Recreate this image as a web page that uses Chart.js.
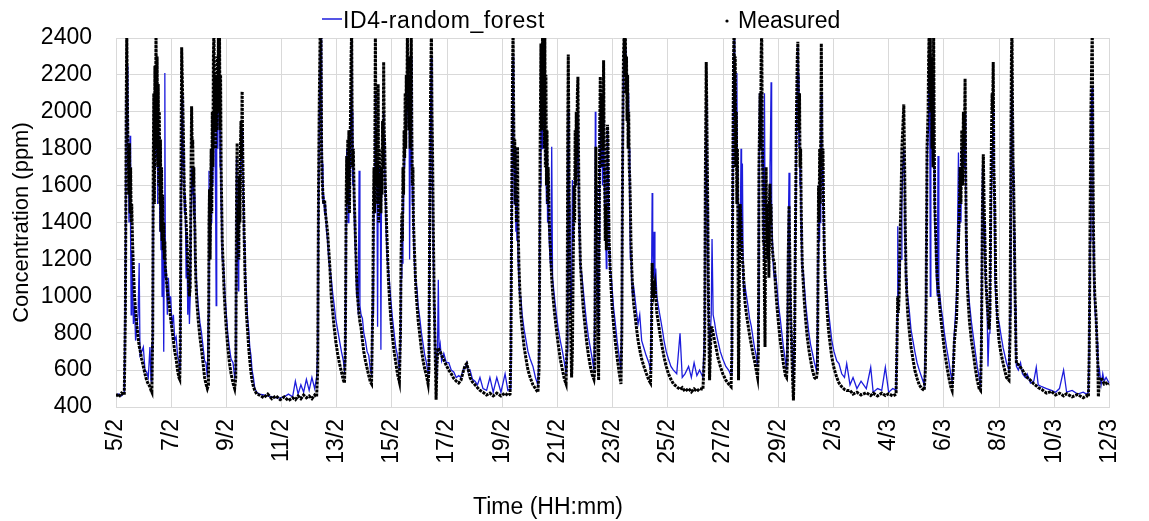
<!DOCTYPE html>
<html>
<head>
<meta charset="utf-8">
<script src="https://cdn.jsdelivr.net/npm/chart.js@4.4.1/dist/chart.umd.min.js"></script>
<style>
  html, body { margin: 0; padding: 0; background: #fff; }
  #wrap { width: 1149px; height: 521px; }
</style>
</head>
<body>
<div id="wrap"><canvas id="myChart" width="1149" height="521"></canvas></div>
<script>
// time in days since 5/2 00:00, one inner list per occupancy event
const timeDays = [
  [0, 0.1, 0.2, 0.3],
  [0.34,0.37,0.39,0.41,0.43, 0.45,0.47,0.49,0.51,0.53, 0.55,0.57,0.60,0.63,0.67, 0.71,0.75,0.80,0.84,0.87, 0.93,0.99,1.05,1.11,1.17, 1.23,1.27,1.30],
  [1.33,1.35,1.37,1.39,1.41, 1.43,1.45,1.47,1.49,1.51, 1.53,1.55,1.57,1.59,1.61, 1.63,1.65,1.67,1.69,1.71, 1.73,1.75,1.77,1.79,1.82, 1.86,1.90,1.94,1.98,2.03, 2.08,2.13,2.18,2.23,2.28, 2.31],
  [2.33,2.36,2.38,2.40,2.42, 2.44,2.46,2.48,2.51,2.54, 2.57,2.60,2.63,2.66,2.69, 2.72,2.74,2.76,2.78,2.80, 2.82,2.84,2.86,2.89,2.93, 2.98,3.04,3.10,3.16,3.21, 3.26,3.31],
  [3.35,3.37,3.39,3.41,3.43, 3.45,3.47,3.49,3.51,3.53, 3.55,3.57,3.59,3.61,3.63, 3.65,3.67,3.69,3.71,3.73, 3.75,3.77,3.79,3.81,3.83, 3.85,3.88,3.92,3.96,4.00, 4.05,4.11,4.17,4.24,4.30],
  [4.34,4.37,4.39,4.41,4.43, 4.45,4.47,4.49,4.51,4.53, 4.55,4.57,4.59,4.61,4.64, 4.67,4.70,4.73,4.77,4.81, 4.85,4.89,4.93,4.98,5.03, 5.10],
  [5.2,5.35,5.5,5.65,5.8, 5.95,6.1,6.25,6.4,6.5, 6.6,6.7,6.8,6.9,7.0, 7.1,7.2,7.27],
  [7.31,7.34,7.37,7.40,7.43, 7.45,7.47,7.50,7.53,7.56, 7.59,7.63,7.67,7.71,7.75, 7.80,7.85,7.90,7.96,8.03, 8.10,8.17,8.24,8.28],
  [8.31,8.34,8.36,8.38,8.40, 8.42,8.44,8.46,8.48,8.50, 8.52,8.54,8.56,8.58,8.60, 8.63,8.66,8.69,8.72,8.75, 8.78,8.81,8.84,8.88,8.93, 8.98,9.04,9.10,9.16,9.22, 9.26],
  [9.29,9.31,9.33,9.35,9.37, 9.39,9.40,9.42,9.44,9.46, 9.48,9.50,9.52,9.54,9.56, 9.58,9.60,9.62,9.64,9.66, 9.68,9.70,9.72,9.74,9.76, 9.79,9.83,9.87,9.91,9.96, 10.02,10.08,10.14,10.20,10.27],
  [10.31,10.33,10.36,10.38,10.40, 10.42,10.44,10.46,10.48,10.50, 10.52,10.54,10.56,10.58,10.60, 10.62,10.64,10.66,10.68,10.70, 10.72,10.74,10.76,10.78,10.81, 10.84,10.87,10.91,10.95,11.01, 11.07,11.13,11.19,11.25,11.31],
  [11.34,11.37,11.40,11.43,11.45, 11.47,11.50,11.53,11.55,11.58, 11.60,11.63,11.66,11.68,11.71, 11.75,11.80,11.88,11.97,12.06, 12.15,12.24,12.33,12.42,12.50, 12.58,12.65,12.71,12.77,12.83, 12.92,13.01,13.10,13.19,13.30, 13.43,13.55,13.67,13.80,13.95, 14.10,14.20,14.28],
  [14.31,14.34,14.37,14.39,14.41, 14.43,14.45,14.47,14.49,14.51, 14.53,14.55,14.57,14.60,14.63, 14.67,14.72,14.79,14.86,14.93, 15.01,15.11,15.20,15.29],
  [15.33,15.35,15.37,15.40,15.42, 15.44,15.46,15.48,15.50,15.52, 15.54,15.56,15.58,15.60,15.62, 15.64,15.66,15.68,15.70,15.73, 15.76,15.79,15.82,15.86,15.90, 15.96,16.02,16.10,16.18,16.25, 16.31],
  [16.35,16.37,16.39,16.41,16.43, 16.45,16.48,16.51,16.54,16.57, 16.60,16.62,16.64,16.66,16.68, 16.70,16.72,16.74,16.76,16.78, 16.80,16.83,16.88,16.93,16.99, 17.05,17.12,17.19,17.26,17.32],
  [17.35,17.37,17.39,17.41,17.43, 17.45,17.47,17.49,17.51,17.53, 17.55,17.57,17.59,17.61,17.63, 17.65,17.67,17.69,17.71,17.73, 17.75,17.77,17.79,17.81,17.83, 17.85,17.87,17.90,17.94,17.98, 18.03,18.09,18.16,18.23,18.30],
  [18.33,18.36,18.39,18.42,18.44, 18.46,18.48,18.50,18.52,18.54, 18.56,18.58,18.60,18.62,18.64, 18.66,18.69,18.72,18.76,18.80, 18.86,18.92,18.98,19.05,19.13, 19.21,19.31,19.37],
  [19.40,19.43,19.45,19.48,19.50, 19.53,19.56,19.60,19.66,19.73, 19.80,19.86,19.94,20.02,20.11, 20.20,20.32,20.44,20.52,20.62, 20.75,20.85,20.95,21.05,21.15, 21.27],
  [21.33,21.36,21.39,21.41,21.43, 21.45,21.47,21.49,21.51,21.54, 21.57,21.60,21.64,21.69,21.75, 21.81,21.90,21.99,22.10,22.20, 22.29],
  [22.32,22.35,22.38,22.40,22.42, 22.44,22.46,22.48,22.50,22.52, 22.54,22.56,22.58,22.60,22.62, 22.65,22.67,22.70,22.73,22.76, 22.80,22.85,22.90,22.96,23.02, 23.08,23.14,23.20,23.25],
  [23.28,23.30,23.32,23.34,23.36, 23.38,23.40,23.42,23.44,23.46, 23.48,23.50,23.52,23.54,23.56, 23.58,23.60,23.62,23.64,23.66, 23.68,23.70,23.72,23.74,23.76, 23.79,23.82,23.86,23.90,23.95, 24.01,24.07,24.13,24.19,24.26, 24.30],
  [24.33,24.36,24.39,24.42,24.45, 24.49,24.52,24.55],
  [24.59,24.63,24.66,24.69,24.71, 24.73,24.75,24.77,24.79,24.81, 24.83,24.85,24.87,24.91,24.95, 25.00,25.05,25.11,25.17,25.24, 25.31,25.38],
  [25.42,25.44,25.46,25.48,25.50, 25.52,25.54,25.56,25.58,25.60, 25.62,25.64,25.67,25.70,25.74, 25.78,25.82,25.88,25.94,26.02, 26.12,26.20,26.30,26.40,26.48, 26.60,26.71,26.85,27.00,27.19, 27.35,27.44,27.60,27.75,27.88, 28.00,28.15,28.27],
  [28.31,28.33,28.35,28.38,28.41, 28.45,28.48,28.51,28.55,28.58, 28.60,28.63,28.66,28.69,28.75, 28.81,28.88,28.95,29.03,29.11, 29.20,29.29],
  [29.33,29.36,29.39,29.43,29.45, 29.47,29.49,29.51,29.53,29.55, 29.57,29.59,29.61,29.63,29.65, 29.67,29.70,29.73,29.76,29.79, 29.82,29.86,29.90,29.96,30.02, 30.10,30.18,30.25,30.30],
  [30.34,30.38,30.42,30.46,30.50, 30.53,30.56,30.59,30.62,30.65, 30.68,30.71,30.74,30.77,30.79, 30.81,30.83,30.87,30.93,31.00, 31.07,31.14,31.21,31.28,31.33],
  [31.36,31.40,31.43,31.46,31.49, 31.52,31.56,31.60,31.64],
  [31.67,31.70,31.73,31.75,31.77, 31.79,31.81,31.83,31.85,31.88, 31.92,31.95,32.00,32.06,32.15, 32.27,32.36],
  [32.40,32.43,32.45,32.47,32.49, 32.51,32.53,32.55,32.57,32.59, 32.61,32.63,32.70,32.78,32.85, 32.95,33.02,33.14,33.26,33.35, 33.42,33.55,33.72,33.90,34.05, 34.19,34.34,34.45,34.65,34.85, 35.05,35.17,35.24],
  [35.27,35.30,35.33,35.36,35.38, 35.40,35.42,35.44,35.47,35.49, 35.52,35.56,35.58,35.60,35.64, 35.70,35.76,35.81,35.88,35.95, 36.00]
];

const measuredPpm = [
  [470,455,475,465],
  [900,2000,2450,2100,1850, 1760,1550,1830,1450,1700, 1400,1500,1290,1150,1000, 920,850,780,730,710, 660,620,580,545,525, 510,490,480],
  [800,1700,2100,1500,2250, 1800,2450,1900,2300,1700, 2150,1600,2000,1500,1850, 1350,1700,1300,1550,1250, 1400,1200,1300,1150,1100, 1030,980,940,880,820, 760,700,660,600,560, 550],
  [700,1800,2350,2200,2050, 1900,1700,1550,1480,1400, 1300,1180,1080,1000,1050, 1700,2030,1800,1850,1600, 1700,1450,1360,1100,970, 870,780,710,630,560, 525,500],
  [520,1400,1580,1200,1550, 1800,1450,2000,1700,2300, 2450,1900,2200,1800,2100, 1900,2300,2000,2400,2100, 2450,1900,2200,1700,1500, 1300,1180,1020,910,820, 725,640,580,530,500],
  [560,1600,1830,1300,1500, 1200,1650,1400,1800,1950, 1750,2110,1800,1600,1360, 1150,1000,900,810,720, 650,590,545,510,490, 470],
  [465,450,470,445,460, 440,455,435,450,440, 460,445,465,450,460, 445,465,455],
  [600,1600,2100,2450,2450, 1800,1650,1540,1500,1520, 1450,1400,1340,1250,1160, 1000,920,840,760,690, 635,590,545,530],
  [700,1500,1760,1500,1850, 1600,1900,1450,1800,2000, 2300,2450,1900,1700,1800, 1550,1400,1250,1100,1000, 950,900,860,830,760, 700,650,610,570,535, 525],
  [800,1030,1500,1700,1450, 2100,2450,1800,1600,1900, 1500,2150,1400,1800,1550, 1650,1450,1700,1550,1950, 1700,2270,1900,1800,1600, 1450,1270,1100,990,880, 780,700,640,580,535],
  [800,1200,1450,1300,1700, 1550,1900,1750,2100,1800, 2200,2000,2450,2100,2300, 1900,2200,1800,2100,2450, 1900,1600,1700,1400,1270, 1150,1030,950,870,790, 710,650,605,570,525],
  [600,1500,2100,2450,2000, 1800,1360,1000,820,600, 440,620,700,720,710, 700,680,655,625,600, 580,555,540,530,545, 590,625,635,600,560, 535,520,505,490,480, 465,475,460,475,460, 475,462,470],
  [700,1500,2200,2450,2000, 1700,1850,1500,1650,1400, 1700,1810,1400,1180,1050, 910,820,725,660,600, 560,520,500,480],
  [600,1100,1800,2370,1900, 2200,2450,2000,2300,1800, 2450,1700,2200,1600,1900, 1500,1700,1580,1400,1300, 1200,1100,1030,960,900, 820,745,660,600,550, 525],
  [800,1900,2310,1900,1300, 1000,800,560,700,1200, 1600,1400,1900,1600,2000, 1750,2100,2190,1800,1500, 1350,1180,1050,940,850, 760,680,620,575,550],
  [600,1300,1810,1500,1300, 1000,700,545,1400,1900, 2190,1900,2100,1700,2000, 1800,2280,1800,1600,1300, 1500,1250,1700,1930,1850, 1500,1300,1180,1050,940, 850,760,670,590,525],
  [800,1800,2300,2450,2200, 2400,2100,2300,1950,2200, 1800,2000,1700,1630,1500, 1300,1150,1050,960,910, 830,760,710,660,620, 585,545,530],
  [700,1180,1000,1070,1030, 1060,1000,910,850,780, 720,670,620,580,550, 525,510,495,505,485, 500,482,498,485,500, 495],
  [700,1700,2270,2000,1700, 1400,1000,750,545,700, 830,830,800,760,720, 670,620,580,545,525, 510],
  [700,1600,2300,2450,2000, 2300,1700,2000,1500,1800, 1300,545,900,1300,1500, 1400,1300,1200,1150,1050, 960,900,850,790,740, 690,650,600,560],
  [700,1700,1900,2100,1800, 2300,2450,1900,1600,1300, 1300,1000,725,1400,1700, 1300,1500,1200,1400,1100, 1500,1610,1400,1500,1300, 1250,1200,1180,1050,950, 850,760,700,630,570, 560],
  [650,1200,1490,1200,900, 700,550,435],
  [700,1500,2000,2300,2380, 2100,1900,2100,1700,1800, 1500,1300,1180,1060,960, 860,780,710,655,600, 560,550],
  [600,1100,1600,1400,1800, 1500,1900,2370,1900,1700, 1800,1500,1250,1100,1000, 900,820,740,670,610, 560,530,510,495,490, 490,470,480,465,478, 462,475,460,475,462, 472,460,470],
  [800,1000,910,1000,1300, 1540,1800,1900,2040,1700, 1400,1120,1000,910,810, 725,660,600,555,520, 500,490],
  [600,1000,1800,2000,2300, 2450,2100,2400,2000,2300, 1800,2200,1700,2450,1900, 1500,1360,1200,1100,1050, 1000,930,870,790,710, 630,560,510,490],
  [600,750,820,880,1100, 1300,1450,1700,1500,1900, 1600,2000,1800,2180,1700, 1400,1180,1000,860,760, 690,610,545,500,490],
  [700,1500,1770,1500,1300, 1100,980,900,820],
  [900,1500,1900,2100,2000, 2270,1700,1600,1450,1090, 950,850,760,700,635, 560,545],
  [800,1800,2300,2450,2000, 1700,1600,1400,1150,950, 750,635,630,615,600, 575,560,545,525,515, 505,495,475,485,465, 475,460,472,455,468, 450,462,455],
  [700,1400,2000,2300,2450, 1800,1400,1180,1000,960, 880,700,635,455,550, 560,540,525,530,520, 525]
];

const predictedPpm = [
  [465,470,460,480],
  [1000,2100,2400,2250,1700, 1820,1400,1650,1870,1300, 900,1250,1100,850,950, 760,820,900,1180,680, 700,725,600,590,560, 725,540,745],
  [700,1600,2000,1900,1700, 2000,2200,1750,2100,1500, 1900,1650,1800,1350,1700, 1250,1500,1000,1400,1150, 700,1300,2210,1100,1150, 900,1100,960,1000,840, 900,760,780,680,650, 600],
  [620,1600,2150,1900,2100, 1700,1800,1450,1550,1100, 1350,900,1150,850,1000, 1500,1700,1650,1550,1700, 1450,1550,1200,1150,1050, 950,860,800,720,650, 640,560],
  [900,1680,1200,1300,1500, 1400,1700,1850,1600,2000, 2200,2050,1800,1500,950, 1900,2100,1800,2200,2300, 2000,1700,1900,1500,1400, 1200,1200,1100,980,900, 800,720,660,640,560],
  [600,1750,1500,1200,1030, 1400,1500,1600,1700,1800, 1850,1900,1700,1650,1300, 1250,1080,1000,880,820, 720,680,600,560,500, 480],
  [470,465,460,455,450, 450,455,470,455,540, 470,520,480,550,490, 560,500,560],
  [700,1500,2000,2300,2400, 1900,1720,1500,1550,1450, 1500,1350,1300,1200,1150, 1100,1020,960,880,820, 760,700,650,600],
  [650,1400,1800,1600,1700, 1400,1800,1500,1650,1900, 2100,2400,2000,1600,1750, 1450,1300,1200,1000,1100, 900,1680,950,900,880, 800,760,700,680,600, 580],
  [900,1100,900,1600,1500, 1900,2100,1700,1750,1500, 835,1600,1500,1700,1400, 1600,710,1500,1650,1750, 1800,2000,1850,1700,1550, 1350,1200,1150,1080,980, 880,800,720,680,600],
  [750,1100,1400,1180,1600, 1450,1800,1700,1900,1950, 2000,2100,2200,2000,1900, 2150,1200,1700,1900,2300, 1800,1500,1600,1350,1200, 1100,1100,1040,950,880, 800,740,680,640,580],
  [650,1400,2000,2300,1900, 1600,1250,950,800,650, 560,600,820,1090,700, 740,650,690,640,640, 600,590,560,570,560, 600,610,640,590,600, 550,540,520,560,500, 490,560,480,560,480, 580,490,500],
  [900,1400,2000,2300,2100, 1500,1650,1800,1350,1500, 1300,1550,1200,1100,1000, 1000,900,820,760,700, 660,620,560,520],
  [700,1300,1600,2100,2000, 1800,2200,2300,1900,2100, 2000,1800,1700,1500,1750, 1400,1600,1450,1300,1200, 1150,1810,1100,1040,980, 900,830,760,700,640, 580],
  [700,1700,2000,1800,1500, 1200,900,1000,1630,1300, 1500,1700,1600,1750,1850, 1650,1900,2000,1700,1450, 1300,1150,1120,1040,950, 860,780,720,660,600],
  [900,2000,1500,1600,1200, 1100,900,800,1300,1700, 1900,1800,1700,1900,1600, 1800,2000,1700,1500,1400, 1300,1150,1600,1900,1700, 1550,1250,1150,1120,1040, 940,860,760,680,600],
  [900,1700,2200,2400,2300, 2200,2350,2100,2200,2000, 2100,1900,1800,1500,1200, 1250,1100,1000,1050,1000, 920,850,900,760,720, 680,640,600],
  [900,1560,1300,1100,1350, 1000,1150,1000,940,880, 820,760,700,660,620, 600,580,800,560,580, 620,560,640,570,600, 560],
  [800,1600,2080,1900,1500, 1100,900,800,650,800, 900,1310,900,860,800, 760,700,660,620,600, 570],
  [800,1500,2200,2400,2320, 2000,2100,1800,2210,1600, 1700,1200,1500,1400,1300, 1800,1250,1720,1100,1000, 1050,1000,950,880,840, 780,720,680,620],
  [900,1500,2100,1800,2000, 1900,2100,1700,1800,1400, 1200,2100,1500,1600,1400, 1500,1300,1400,1200,1300, 1600,1700,1900,2160,1400, 1300,1150,1100,1120,1060, 950,880,800,720,650, 600],
  [800,1300,1670,1100,950, 750,620,520],
  [800,1400,1900,2200,2350, 2200,1800,1900,1600,1700, 1400,1250,1150,1120,1050, 950,880,800,740,690, 640,600],
  [800,1200,1600,1300,1700, 1400,1800,2100,1800,1600, 1700,1400,1200,1100,1080, 1000,920,840,760,700, 650,635,580,560,635, 520,560,500,540,500, 615,480,500,490,615, 480,500,490],
  [900,1380,1000,1100,1200, 1200,1500,1700,1800,1600, 1300,1100,1000,1000,920, 820,760,700,640,600, 560,520],
  [700,1200,1700,1900,2200, 2300,2000,1000,2100,2000, 1900,1700,1800,2200,1700, 1400,1300,1100,1000,1760, 950,1000,940,880,800, 720,650,580,540],
  [650,800,900,1000,1400, 1780,1300,1600,1400,1800, 1700,1900,1700,2000,1600, 1300,1100,1080,960,860, 780,700,620,560,520],
  [800,1700,1600,1400,1200, 1050,1000,620,800],
  [850,1300,1630,1800,1900, 2000,1800,1500,1100,1000, 900,880,860,800,720, 640,600],
  [900,1700,2100,2250,2000, 1700,1500,1350,1100,950, 700,620,600,640,580, 560,580,530,540,615, 520,510,500,490,480, 500,600,480,490,470, 480,470,480],
  [800,1300,1900,2100,2140, 1700,1300,1100,950,900, 850,750,650,560,600, 520,580,540,560,540, 530]
];

const tickLabels = ['5/2','7/2','9/2','11/2','13/2','15/2','17/2','19/2','21/2','23/2',
  '25/2','27/2','29/2','2/3','4/3','6/3','8/3','10/3','12/3'];
const seriesNames = ['ID4-random_forest', 'Measured'];
const seriesColors = ['#1c1cdc', '#000000'];

timeDays.forEach((ev, i) => {
  if (ev.length !== measuredPpm[i].length || ev.length !== predictedPpm[i].length) {
    throw new Error('event ' + i + ' length mismatch: ' + ev.length + ' / ' + measuredPpm[i].length + ' / ' + predictedPpm[i].length);
  }
});

const t = timeDays.flat();
const mFlat = measuredPpm.flat();
const pFlat = predictedPpm.flat();
const measuredPts = t.map((x, i) => ({ x: x, y: mFlat[i] }));
const predictedPts = t.map((x, i) => ({ x: x, y: pFlat[i] }));

const FONT = 'Liberation Sans, Arial, sans-serif';

// legend and x title drawn by hand so they sit where the original has them
const extras = {
  id: 'extras',
  afterDraw(chart) {
    const c = chart.ctx;
    c.save();
    c.font = '23px ' + FONT;
    c.fillStyle = '#000';
    c.textBaseline = 'alphabetic';
    c.strokeStyle = seriesColors[0];
    c.lineWidth = 1.5;
    c.beginPath(); c.moveTo(322, 19); c.lineTo(342, 19); c.stroke();
    c.letterSpacing = '0.6px';
    c.fillText(seriesNames[0], 343, 28);
    c.letterSpacing = '0px';
    c.beginPath(); c.arc(727, 21, 1.6, 0, Math.PI * 2); c.fill();
    c.fillText(seriesNames[1], 738, 28);
    c.textAlign = 'center';
    c.textBaseline = 'middle';
    c.fillText('Time (HH:mm)', 548, 508);
    c.restore();
  }
};

const ctx = document.getElementById('myChart').getContext('2d');
new Chart(ctx, {
  type: 'line',
  data: {
    datasets: [
      { label: seriesNames[1], data: measuredPts, borderColor: seriesColors[1], borderWidth: 3,
        borderDash: [3, 1], pointRadius: 0, order: 0 },
      { label: seriesNames[0], data: predictedPts, borderColor: seriesColors[0], borderWidth: 1.3,
        pointRadius: 0, order: 1 }
    ]
  },
  options: {
    responsive: false,
    animation: false,
    layout: { padding: { top: 38, right: 11, left: 0, bottom: 0 } },
    plugins: { legend: { display: false }, tooltip: { enabled: false } },
    elements: { line: { tension: 0 } },
    scales: {
      x: {
        type: 'linear', min: 0, max: 36,
        grid: { color: '#d9d9d9', drawTicks: false },
        border: { color: '#d9d9d9' },
        ticks: {
          stepSize: 2, autoSkip: false, maxRotation: 90, minRotation: 90, padding: 12,
          color: '#000', font: { family: FONT, size: 23 },
          callback: v => tickLabels[Math.round(v / 2)]
        },
        afterFit: s => { s.height = 114; }
      },
      y: {
        min: 400, max: 2400,
        grid: { color: '#d9d9d9', drawTicks: false },
        border: { color: '#d9d9d9' },
        ticks: { stepSize: 200, padding: 24, color: '#000', font: { family: FONT, size: 23 },
          callback: v => String(v) },
        title: { display: true, text: 'Concentration (ppm)', color: '#000',
          font: { family: FONT, size: 22 }, padding: { top: 9, bottom: 0 } },
        afterFit: s => { s.width = 116; }
      }
    }
  },
  plugins: [extras]
});
</script>
</body>
</html>
